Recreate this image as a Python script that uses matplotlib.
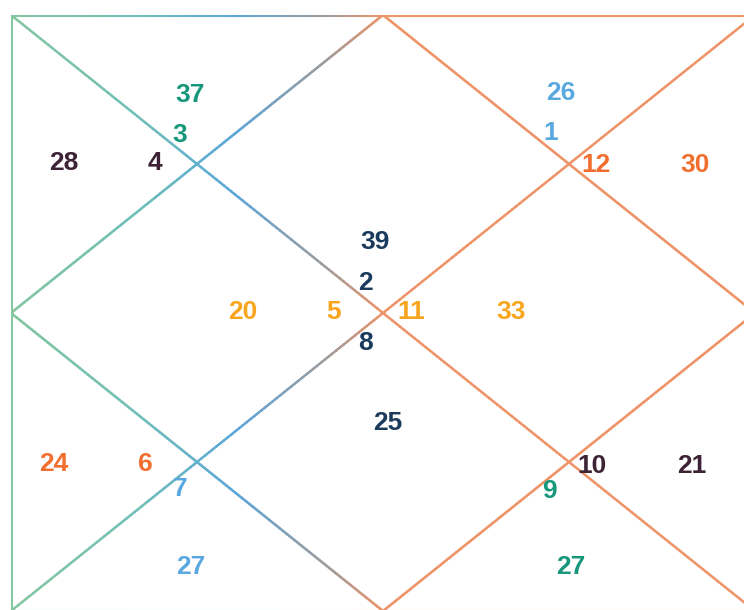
import numpy as np
import matplotlib
matplotlib.use('Agg')
import matplotlib.pyplot as plt
from matplotlib.collections import LineCollection
from matplotlib.colors import LinearSegmentedColormap, to_rgb

# Ashtakavarga totals, houses 1..12 (North Indian layout)
houses = list(range(1, 13))
signs = [2, 3, 4, 5, 6, 7, 8, 9, 10, 11, 12, 1]
points = [39, 37, 28, 20, 24, 27, 25, 27, 21, 33, 30, 26]
house_colors = ['#1b3b5c', '#16977b', '#3d2335', '#f8a51d', '#f26e2e', '#5aa8e0',
                '#1b3b5c', '#16977b', '#3d2335', '#f8a51d', '#f26e2e', '#5aa8e0']

# label anchor positions per house, in chart units (0..1, y down)
POINT_POS = [(0.489, 0.381), (0.241, 0.134), (0.071, 0.248), (0.312, 0.498),
             (0.058, 0.753), (0.242, 0.926), (0.507, 0.684), (0.753, 0.927),
             (0.915, 0.756), (0.672, 0.498), (0.919, 0.251), (0.739, 0.131)]
SIGN_POS = [(0.476, 0.449), (0.227, 0.201), (0.194, 0.248), (0.434, 0.498),
            (0.180, 0.753), (0.228, 0.795), (0.476, 0.550), (0.724, 0.798),
            (0.781, 0.756), (0.538, 0.498), (0.786, 0.251), (0.726, 0.198)]

# horizontal stroke gradient green -> blue -> grey -> orange
grad = LinearSegmentedColormap.from_list('kundli', [
    (0.0, to_rgb('#84c6a0')),
    (0.17, to_rgb('#70bfb8')),
    (0.30, to_rgb('#5aa6da')),
    (0.43, to_rgb('#a39b98')),
    (0.50, to_rgb('#ee9468')),
    (1.0, to_rgb('#ee9468')),
])


def grad_line(ax, p0, p1, n=200, lw=1.8):
    xs = np.linspace(p0[0], p1[0], n)
    ys = np.linspace(p0[1], p1[1], n)
    pts = np.column_stack([xs, ys]).reshape(-1, 1, 2)
    segs = np.concatenate([pts[:-1], pts[1:]], axis=1)
    mid = (xs[:-1] + xs[1:]) / 2
    lc = LineCollection(segs, colors=grad(mid), linewidths=lw, capstyle='round')
    ax.add_collection(lc)


fig = plt.figure(figsize=(7.44, 6.10), dpi=100)
ax = fig.add_axes([11 / 744, (610 - 611) / 610, 744 / 744, 596 / 610])
ax.set_xlim(0, 1)
ax.set_ylim(1, 0)
ax.axis('off')

# outer frame
for p0, p1 in [((0, 0), (1, 0)), ((1, 0), (1, 1)), ((1, 1), (0, 1)), ((0, 1), (0, 0))]:
    grad_line(ax, p0, p1, lw=2.2)
# diagonals
grad_line(ax, (0, 0), (1, 1))
grad_line(ax, (1, 0), (0, 1))
# inner diamond
for p0, p1 in [((0.5, 0), (1, 0.5)), ((1, 0.5), (0.5, 1)), ((0.5, 1), (0, 0.5)), ((0, 0.5), (0.5, 0))]:
    grad_line(ax, p0, p1)

font = dict(family=['Liberation Sans', 'DejaVu Sans'], fontweight='bold',
            fontsize=19, ha='center', va='center')
for i, h in enumerate(houses):
    c = house_colors[i]
    ax.text(*POINT_POS[i], str(points[i]), color=c, **font)
    ax.text(*SIGN_POS[i], str(signs[i]), color=c, **font)

fig.savefig('out.png', dpi=100)
